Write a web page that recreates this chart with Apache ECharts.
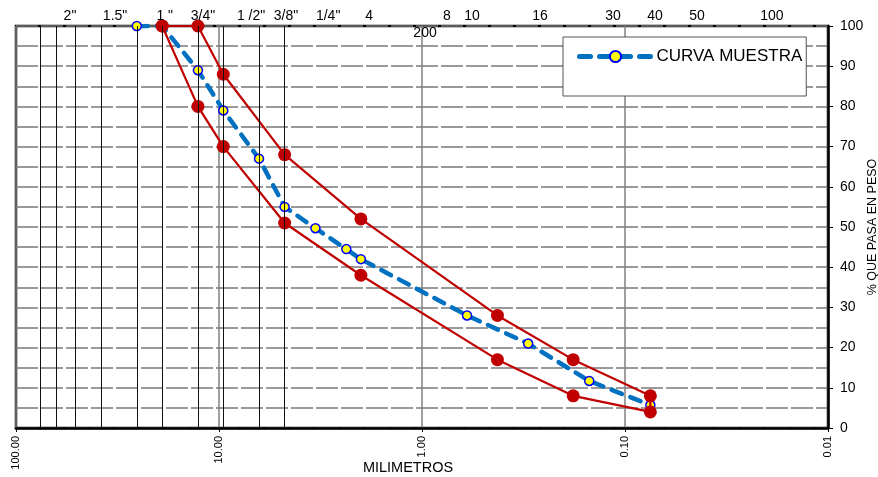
<!DOCTYPE html>
<html>
<head>
<meta charset="utf-8">
<script src="https://cdn.jsdelivr.net/npm/echarts@6/dist/echarts.min.js"></script>
<style>
html,body{margin:0;padding:0;background:#fff;}
#chart{width:878px;height:477px;}
</style>
</head>
<body>
<div id="chart"></div>
<script>
// ---- data ----
var sampleMm   = [25.4, 19.05, 12.7, 9.525, 6.35, 4.75, 3.35, 2.36, 2.0, 0.6, 0.3, 0.15, 0.075];
var samplePass = [100, 100, 89, 79, 67, 55, 49.7, 44.5, 42, 28, 21, 11.7, 5.7];

var upperMm   = [12.7, 9.525, 4.75, 2.0, 0.425, 0.18, 0.075];
var upperPass = [100, 88, 68, 52, 28, 17, 8];
var lowerMm   = [19.05, 12.7, 9.525, 4.75, 2.0, 0.425, 0.18, 0.075];
var lowerPass = [100, 80, 70, 51, 38, 17, 8, 4];

var sieveLinesMm = [76.2, 63.5, 50.8, 38.1, 25.4, 19.05, 12.7, 9.525, 6.35, 4.75];

var topLabels   = ['2"', '1.5"', '1 "', '3/4"', '1 /2"', '3/8"', '1/4"', '4', '8', '10', '16', '30', '40', '50', '100'];
var topLabelMm  = [54.2, 32.5, 18.5, 12.0, 6.95, 4.68, 2.90, 1.82, 0.753, 0.567, 0.262, 0.1146, 0.0711, 0.0442, 0.0189];
var extraLabel  = '200';
var extraLabelMm = 0.966;

var seriesName = 'CURVA MUESTRA';

// ---- build ----
var sampleData = sampleMm.map(function (m, i) { return [m, samplePass[i]]; });
var envelope = [];
lowerMm.forEach(function (m, i) { envelope.push([m, lowerPass[i]]); });
for (var i = upperMm.length - 1; i >= 0; i--) envelope.push([upperMm[i], upperPass[i]]);
envelope.push([lowerMm[0], lowerPass[0]]);

var FONT = 'Liberation Sans, Arial, sans-serif';
var chart = echarts.init(document.getElementById('chart'), null, {renderer: 'canvas'});

var option = {
  animation: false,
  backgroundColor: '#fff',
  textStyle: {fontFamily: FONT},
  grid: {left: 16, right: 50, top: 26, bottom: 49, containLabel: false, outerBoundsMode: 'none',
         show: true, borderColor: '#000', borderWidth: 2.5, backgroundColor: 'transparent'},
  legend: {
    data: [seriesName],
    left: 563, top: 37,
    padding: [11, 4, 31, 14],
    backgroundColor: '#fff',
    borderColor: '#555', borderWidth: 1,
    itemWidth: 72, itemHeight: 14, itemGap: 6,
    lineStyle: {width: 5, color: '#0070C0', type: [11, 9], cap: 'round'},
    textStyle: {fontSize: 17, color: '#000', fontFamily: FONT}
  },
  xAxis: {
    type: 'log', logBase: 10, min: 0.01, max: 100, inverse: true,
    name: 'MILIMETROS', nameLocation: 'middle', nameGap: 32, nameMoveOverlap: false,
    nameTextStyle: {fontSize: 14.5, color: '#000', fontFamily: FONT, padding: [0, 28, 0, 0]},
    axisLine: {show: true, lineStyle: {color: '#000', width: 2.5}},
    axisTick: {show: true, length: 4, lineStyle: {color: '#000'}},
    axisLabel: {rotate: 90, fontSize: 11, color: '#000', margin: 8, fontFamily: FONT,
      formatter: function (v) { return Number(v).toFixed(2); }},
    splitLine: {show: true, lineStyle: {color: '#808080', width: 1.5}},
    minorTick: {show: false}, minorSplitLine: {show: false}
  },
  yAxis: {
    type: 'value', position: 'right', min: 0, max: 100, interval: 10,
    name: '% QUE PASA EN PESO', nameLocation: 'middle', nameGap: 38, nameRotate: 90, nameMoveOverlap: false,
    nameTextStyle: {fontSize: 12.5, color: '#000', fontFamily: FONT},
    axisLine: {show: true, lineStyle: {color: '#000', width: 2.5}},
    axisTick: {show: true, inside: false, length: 5, lineStyle: {color: '#000'}},
    axisLabel: {fontSize: 14, color: '#000', margin: 12, fontFamily: FONT},
    splitLine: {show: true, lineStyle: {color: '#7a7a7a', width: 1.5, type: [22, 3]}},
    minorTick: {show: false, splitNumber: 2},
    minorSplitLine: {show: true, lineStyle: {color: '#7a7a7a', width: 1.5, type: [22, 3]}}
  },
  series: [
    {
      name: 'sieves', type: 'line', data: [], silent: true,
      markLine: {
        silent: true, symbol: 'none', label: {show: false},
        lineStyle: {color: '#111', width: 1, type: 'solid'},
        data: sieveLinesMm.map(function (m) { return {xAxis: m}; })
      }
    },
    {
      name: seriesName, type: 'line', data: sampleData, z: 3,
      symbol: 'circle', symbolSize: 9,
      lineStyle: {color: '#0070C0', width: 4.5, type: [11, 9], cap: 'round'},
      itemStyle: {color: '#FFFF00', borderColor: '#0000FF', borderWidth: 1.5}
    },
    {
      name: 'LIMITES', type: 'line', data: envelope, z: 4,
      symbol: 'circle', symbolSize: 13,
      lineStyle: {color: '#C00000', width: 2.2},
      itemStyle: {color: '#C00000'}
    }
  ]
};
chart.setOption(option);

var gfx = [];
topLabels.forEach(function (t, i) {
  var px = chart.convertToPixel({xAxisIndex: 0}, topLabelMm[i]);
  gfx.push({type: 'text', x: px, y: 16, style: {text: t, fontSize: 14, fill: '#000', fontFamily: FONT, textAlign: 'center', textVerticalAlign: 'middle'}, z: 10});
});
var pxe = chart.convertToPixel({xAxisIndex: 0}, extraLabelMm);
gfx.push({type: 'text', x: pxe, y: 33, style: {text: extraLabel, fontSize: 14, fill: '#000', fontFamily: FONT, textAlign: 'center', textVerticalAlign: 'middle'}, z: 10});
chart.setOption({graphic: gfx});
</script>
</body>
</html>
